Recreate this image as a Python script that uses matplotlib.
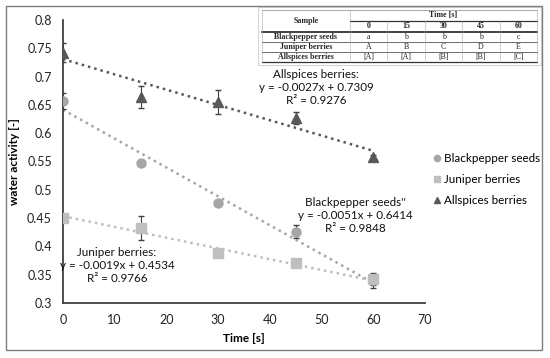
import matplotlib.pyplot as plt
from matplotlib.lines import Line2D
from matplotlib.patches import Rectangle
import numpy as np

# data
time = [0, 15, 30, 45, 60]
blackpepper = [0.657, 0.547, 0.476, 0.426, 0.340]
blackpepper_err = [0.014, 0.0, 0.0, 0.012, 0.013]
juniper = [0.451, 0.433, 0.388, 0.370, 0.342]
juniper_err = [0.0, 0.021, 0.0, 0.004, 0.010]
allspice = [0.742, 0.664, 0.655, 0.627, 0.558]
allspice_err = [0.017, 0.019, 0.021, 0.010, 0.004]

# linear fits: (slope, intercept, r2)
fit_bp = (-0.0051, 0.6414, 0.9848)
fit_jb = (-0.0019, 0.4534, 0.9766)
fit_as = (-0.0027, 0.7309, 0.9276)

table_cols = ['0', '15', '30', '45', '60']
table_rows = ['Blackpepper seeds', 'Juniper berries', 'Allspices berries']
table_vals = [['a', 'b', 'b', 'b', 'c'],
              ['A', 'B', 'C', 'D', 'E'],
              ['[A]', '[A]', '[B]', '[B]', '[C]']]

W, H = 550, 358
fig = plt.figure(figsize=(5.5, 3.58), dpi=100)
plt.rcParams['font.family'] = ['Lato', 'DejaVu Sans']

# outer frame
fig.patches.append(Rectangle((6 / W, 1 - 350 / H), 536 / W, 344 / H, transform=fig.transFigure,
                             fill=False, ec='#7f7f7f', lw=1.0))

ax = fig.add_axes([63 / W, 1 - 303 / H, 362 / W, 283 / H])
c_bp, c_jb, c_as = '#a6a6a6', '#bfbfbf', '#595959'

xx = np.array([0, 60])
ax.plot(xx, fit_bp[0] * xx + fit_bp[1], ls=(0, (1, 1.6)), color=c_bp, lw=1.8)
ax.plot(xx, fit_jb[0] * xx + fit_jb[1], ls=(0, (1, 1.6)), color=c_jb, lw=1.8)
ax.plot(xx, fit_as[0] * xx + fit_as[1], ls=(0, (1, 1.6)), color=c_as, lw=1.8)

ax.errorbar(time, blackpepper, yerr=blackpepper_err, fmt='o', color=c_bp, ms=6.5,
            ecolor='#404040', elinewidth=0.8, capsize=2, zorder=3)
ax.errorbar(time, juniper, yerr=juniper_err, fmt='s', color=c_jb, ms=6.5,
            ecolor='#404040', elinewidth=0.8, capsize=2, zorder=3)
ax.errorbar(time, allspice, yerr=allspice_err, fmt='^', color=c_as, ms=6.5,
            ecolor='#404040', elinewidth=0.8, capsize=2, zorder=3)

ax.set_xlim(0, 70)
ax.set_ylim(0.3, 0.8)
ax.set_xticks(range(0, 71, 10))
ax.set_yticks(np.arange(0.3, 0.801, 0.05))
ax.set_yticklabels(['0.3', '0.35', '0.4', '0.45', '0.5', '0.55', '0.6', '0.65', '0.7', '0.75', '0.8'])
for s in ['top', 'right']:
    ax.spines[s].set_visible(False)
for s in ['left', 'bottom']:
    ax.spines[s].set_color('#404040')
    ax.spines[s].set_linewidth(1.3)
ax.tick_params(length=0, labelsize=9, colors='#222222', pad=8)
ax.set_xlabel('Time [s]', fontsize=8.5, fontweight='bold', labelpad=5)
ax.set_ylabel('water activity [-]', fontsize=8.5, fontweight='bold', labelpad=5)

# equation labels
def eq(x, y, name, f):
    fig.text(x / W, 1 - y / H, '%s\ny = %.4fx + %.4f\nR² = %.4f' % (name, f[0], f[1], f[2]),
             ha='center', va='top', fontsize=8.4, linespacing=1.25, color='#111111')

eq(316, 69, 'Allspices berries:', fit_as)
eq(355, 197, "Blackpepper seeds''", fit_bp)
eq(117, 247, 'Juniper berries:', fit_jb)

# legend
handles = [Line2D([], [], marker='o', ls='', color=c_bp, ms=4.5),
           Line2D([], [], marker='s', ls='', color=c_jb, ms=4.5),
           Line2D([], [], marker='^', ls='', color=c_as, ms=4.5)]
fig.legend(handles, ['Blackpepper seeds', 'Juniper berries', 'Allspices berries'],
           loc='upper left', bbox_to_anchor=(421 / W, 1 - 143 / H), frameon=False,
           fontsize=8.4, handletextpad=0.15, handlelength=0.9, labelspacing=0.85)

# table in the upper right corner
tl, tr = 262, 537
split = 350
rows_y = [10, 21, 32, 42, 52, 62]
def hline(x0, x1, y, lw=0.6, c='#555555'):
    fig.add_artist(Line2D([x0 / W, x1 / W], [1 - y / H, 1 - y / H], lw=lw, color=c))
def vline(x, y0, y1, lw=0.4, c='#aaaaaa'):
    fig.add_artist(Line2D([x / W, x / W], [1 - y0 / H, 1 - y1 / H], lw=lw, color=c))

fig.patches.append(Rectangle((258 / W, 1 - 65 / H), 283 / W, 58 / H, transform=fig.transFigure,
                             fill=True, fc='white', ec='#cccccc', lw=0.6, zorder=0))
hline(tl, tr, rows_y[0], 0.6, '#999999')
hline(split, tr, rows_y[1], 0.9, '#333333')
hline(tl, tr, rows_y[2], 1.3, '#333333')
hline(tl, tr, rows_y[3], 0.6, '#555555')
hline(tl, tr, rows_y[4], 0.6, '#555555')
hline(tl, tr, rows_y[5], 0.9, '#333333')
cw = (tr - split) / 5.0
vline(tl, rows_y[0], rows_y[5])
vline(tr, rows_y[0], rows_y[5])
vline(split, rows_y[0], rows_y[5])
for i in range(1, 5):
    vline(split + i * cw, rows_y[1], rows_y[5])

tfont = dict(family=['Liberation Serif', 'DejaVu Serif'], fontsize=5.7, color='#222222',
             ha='center', va='center')
fig.text((tl + split) / 2 / W, 1 - 21 / H, 'Sample', fontweight='bold', **tfont)
fig.text((split + tr) / 2 / W, 1 - 15.5 / H, 'Time [s]', fontweight='bold', **tfont)
for i, c in enumerate(table_cols):
    fig.text((split + (i + 0.5) * cw) / W, 1 - 26.5 / H, c, fontweight='bold', **tfont)
for r, name in enumerate(table_rows):
    yc = (rows_y[r + 2] + rows_y[r + 3]) / 2
    fig.text((tl + split) / 2 / W, 1 - yc / H, name, fontweight='bold', **tfont)
    for i, v in enumerate(table_vals[r]):
        fig.text((split + (i + 0.5) * cw) / W, 1 - yc / H, v, **tfont)

fig.savefig('out.png', dpi=100)
